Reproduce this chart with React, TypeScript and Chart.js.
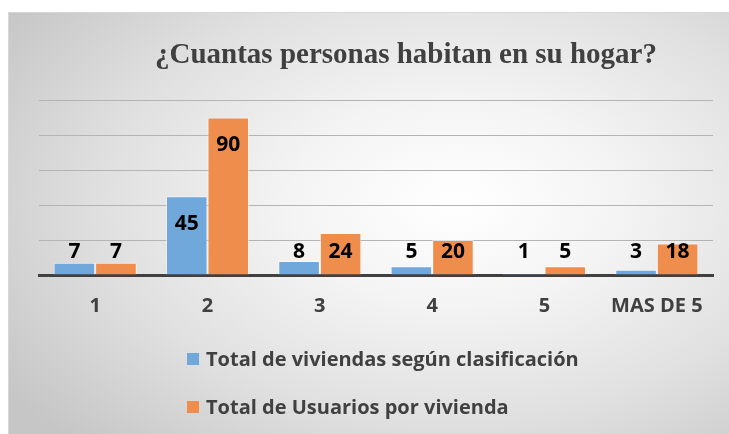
import React, { useEffect, useRef } from "react";
import { Chart, registerables } from "chart.js";

Chart.register(...registerables);

const categories = ["1", "2", "3", "4", "5", "MAS DE 5"];
const viviendas = [7, 45, 8, 5, 1, 3];
const usuarios = [7, 90, 24, 20, 5, 18];
const seriesNames = ["Total de viviendas según clasificación", "Total de Usuarios por vivienda"];
const titleText = "¿Cuantas personas habitan en su hogar?";

const SANS = "'Open Sans', 'DejaVu Sans', sans-serif";

const overlayPlugin = {
  id: "overlay",
  afterDatasetsDraw(chart: any) {
    const ctx = chart.ctx;
    const yScale = chart.scales.y;
    const base = yScale.getPixelForValue(0);
    ctx.save();
    ctx.fillStyle = "#000";
    ctx.font = `bold 21px ${SANS}`;
    ctx.textAlign = "center";
    ctx.textBaseline = "middle";
    chart.data.datasets.forEach((ds: any, di: number) => {
      const meta = chart.getDatasetMeta(di);
      meta.data.forEach((el: any, i: number) => {
        const y = Math.min(el.y + 28, base - 23);
        ctx.fillText(String(ds.data[i]), el.x, y);
      });
    });
    ctx.restore();
  },
  afterDraw(chart: any) {
    const ctx = chart.ctx;
    ctx.save();
    // title
    ctx.fillStyle = "#404040";
    ctx.font = "bold 29px 'Liberation Serif', 'Times New Roman', serif";
    ctx.textAlign = "center";
    ctx.textBaseline = "middle";
    ctx.fillText(titleText, 397, 43);
    // legend
    ctx.font = `bold 20px ${SANS}`;
    ctx.textAlign = "left";
    chart.data.datasets.forEach((ds: any, di: number) => {
      const cy = 346 + di * 48;
      ctx.fillStyle = ds.backgroundColor;
      ctx.fillRect(178, cy - 6, 12, 12);
      ctx.fillStyle = "#404040";
      ctx.fillText(ds.label, 197, cy + 1);
    });
    ctx.restore();
  },
};

export default function App() {
  const ref = useRef<HTMLCanvasElement | null>(null);
  useEffect(() => {
    if (!ref.current) return;
    const chart = new Chart(ref.current, {
      type: "bar",
      data: {
        labels: categories,
        datasets: [
          {
            label: seriesNames[0],
            data: viviendas,
            backgroundColor: "#70a8dc",
            borderColor: "rgba(255,255,255,0.6)",
            borderWidth: 1,
          },
          {
            label: seriesNames[1],
            data: usuarios,
            backgroundColor: "#ef8d4d",
            borderColor: "rgba(255,255,255,0.6)",
            borderWidth: 1,
          },
        ],
      },
      options: {
        animation: false,
        responsive: false,
        maintainAspectRatio: false,
        layout: { padding: { left: 30, right: 16, top: 87, bottom: 97 } },
        plugins: {
          legend: { display: false },
          title: { display: false },
          tooltip: { enabled: false },
        },
        datasets: { bar: { categoryPercentage: 0.74, barPercentage: 1.0 } },
        scales: {
          x: {
            grid: { display: false, drawTicks: false },
            border: { display: true, color: "#404040", width: 3 },
            ticks: {
              color: "#404040",
              font: { family: SANS, size: 20, weight: "bold" },
              padding: 19,
              maxRotation: 0,
              autoSkip: false,
            },
          },
          y: {
            min: 0,
            max: 100,
            grid: { color: "#b4b4b4", lineWidth: 1, drawTicks: false },
            border: { display: false },
            ticks: { display: false, stepSize: 20 },
          },
        },
      },
      plugins: [overlayPlugin],
    });
    return () => chart.destroy();
  }, []);
  return (
    <div
      style={{
        position: "absolute",
        left: 8,
        top: 12,
        width: 721,
        height: 422,
        borderTop: "1px solid #d6d6d6",
        borderLeft: "1px solid #d6d6d6",
        boxSizing: "border-box",
        background:
          "radial-gradient(ellipse 75% 80% at 62% 45%, #ffffff 0%, #f4f4f4 30%, #e0e0e0 65%, #c6c6c6 100%)",
      }}
    >
      <canvas ref={ref} width={720} height={421} style={{ display: "block" }} />
    </div>
  );
}
